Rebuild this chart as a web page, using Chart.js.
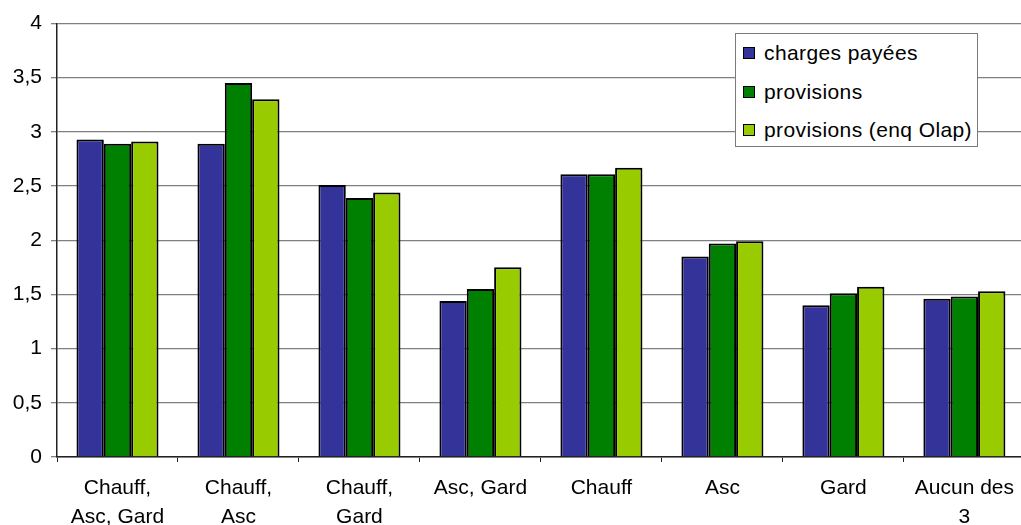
<!DOCTYPE html>
<html>
<head>
<meta charset="utf-8">
<script src="https://cdn.jsdelivr.net/npm/chart.js@4/dist/chart.umd.min.js"></script>
<style>
  html, body { margin: 0; padding: 0; background: #fff; overflow: hidden; }
  #wrap { position: relative; width: 1021px; height: 525px; overflow: hidden; }
  #chart { position: absolute; left: 0; top: 0; }
  #legend {
    position: absolute; left: 735px; top: 33px; width: 241px; height: 112px;
    border: 1px solid #7a7a7a; background: #fff;
    font-family: "Liberation Sans", Arial, sans-serif; font-size: 21px; color: #000;
    letter-spacing: 0.4px;
  }
  .item { position: absolute; left: 7px; height: 24px; line-height: 24px; white-space: nowrap; }
  .sw { position: absolute; left: 0; top: 6px; width: 10px; height: 10px; border: 1px solid #000; }
  .lbl { position: absolute; left: 21px; top: 0; }
</style>
</head>
<body>
<div id="wrap">
  <canvas id="chart" width="1026" height="525"></canvas>
  <div id="legend"></div>
</div>
<script>
// Categories (multi-line labels as arrays)
const categories = [
  ["Chauff,", "Asc, Gard"],
  ["Chauff,", "Asc"],
  ["Chauff,", "Gard"],
  "Asc, Gard",
  "Chauff",
  "Asc",
  "Gard",
  ["Aucun des", "3"]
];

// Series
const seriesNames = ["charges payées", "provisions", "provisions (enq Olap)"];
const chargesPayees   = [2.93, 2.89, 2.51, 1.44, 2.61, 1.85, 1.40, 1.46];
const provisions      = [2.89, 3.45, 2.39, 1.55, 2.61, 1.97, 1.51, 1.48];
const provisionsOlap  = [2.91, 3.30, 2.44, 1.75, 2.67, 1.99, 1.57, 1.53];
const seriesColors = ["#333399", "#008000", "#99CC00"];

// Value axis
const yMin = 0, yMax = 4, yStep = 0.5;

const FONT = { family: '"Liberation Sans", Arial, sans-serif', size: 21, lineHeight: 1.38 };

const seriesValues = [chargesPayees, provisions, provisionsOlap];
const datasets = seriesValues.map((vals, i) => ({
  label: seriesNames[i],
  data: vals,
  backgroundColor: seriesColors[i],
  borderColor: "#000",
  borderWidth: 2,
  borderSkipped: "bottom",
  barPercentage: 1.0,
  categoryPercentage: 0.678
}));

const chart = new Chart(document.getElementById("chart"), {
  type: "bar",
  data: { labels: categories, datasets },
  options: {
    responsive: false,
    animation: false,
    events: [],
    layout: { padding: { top: 23, right: 0, left: 0, bottom: 0 } },
    plugins: { legend: { display: false }, tooltip: { enabled: false } },
    scales: {
      x: {
        offset: true,
        grid: {
          offset: true,
          drawOnChartArea: false,
          drawTicks: true,
          tickLength: 5,
          color: "#222",
          lineWidth: 1
        },
        border: { display: true, color: "#222", width: 1.5 },
        ticks: {
          color: "#000",
          font: FONT,
          padding: 12,
          maxRotation: 0,
          autoSkip: false
        },
        afterFit(scale) { scale.height = 68; }
      },
      y: {
        min: yMin,
        max: yMax,
        grid: {
          color: "#808080",
          lineWidth: 1.3,
          drawTicks: true,
          tickLength: 6
        },
        border: { display: true, color: "#222", width: 1.5 },
        ticks: {
          stepSize: yStep,
          color: "#000",
          font: FONT,
          padding: 9,
          callback: v => String(v).replace(".", ",")
        },
        afterFit(scale) { scale.width = 57; }
      }
    }
  }
});

// Legend box built from the chart datasets
const legend = document.getElementById("legend");
const rowCenters = [19, 57.5, 96];
chart.data.datasets.forEach((ds, i) => {
  const item = document.createElement("div");
  item.className = "item";
  item.style.top = (rowCenters[i] - 12) + "px";
  const sw = document.createElement("span");
  sw.className = "sw";
  sw.style.background = ds.backgroundColor;
  const lbl = document.createElement("span");
  lbl.className = "lbl";
  lbl.textContent = ds.label;
  item.appendChild(sw);
  item.appendChild(lbl);
  legend.appendChild(item);
});
</script>
</body>
</html>
